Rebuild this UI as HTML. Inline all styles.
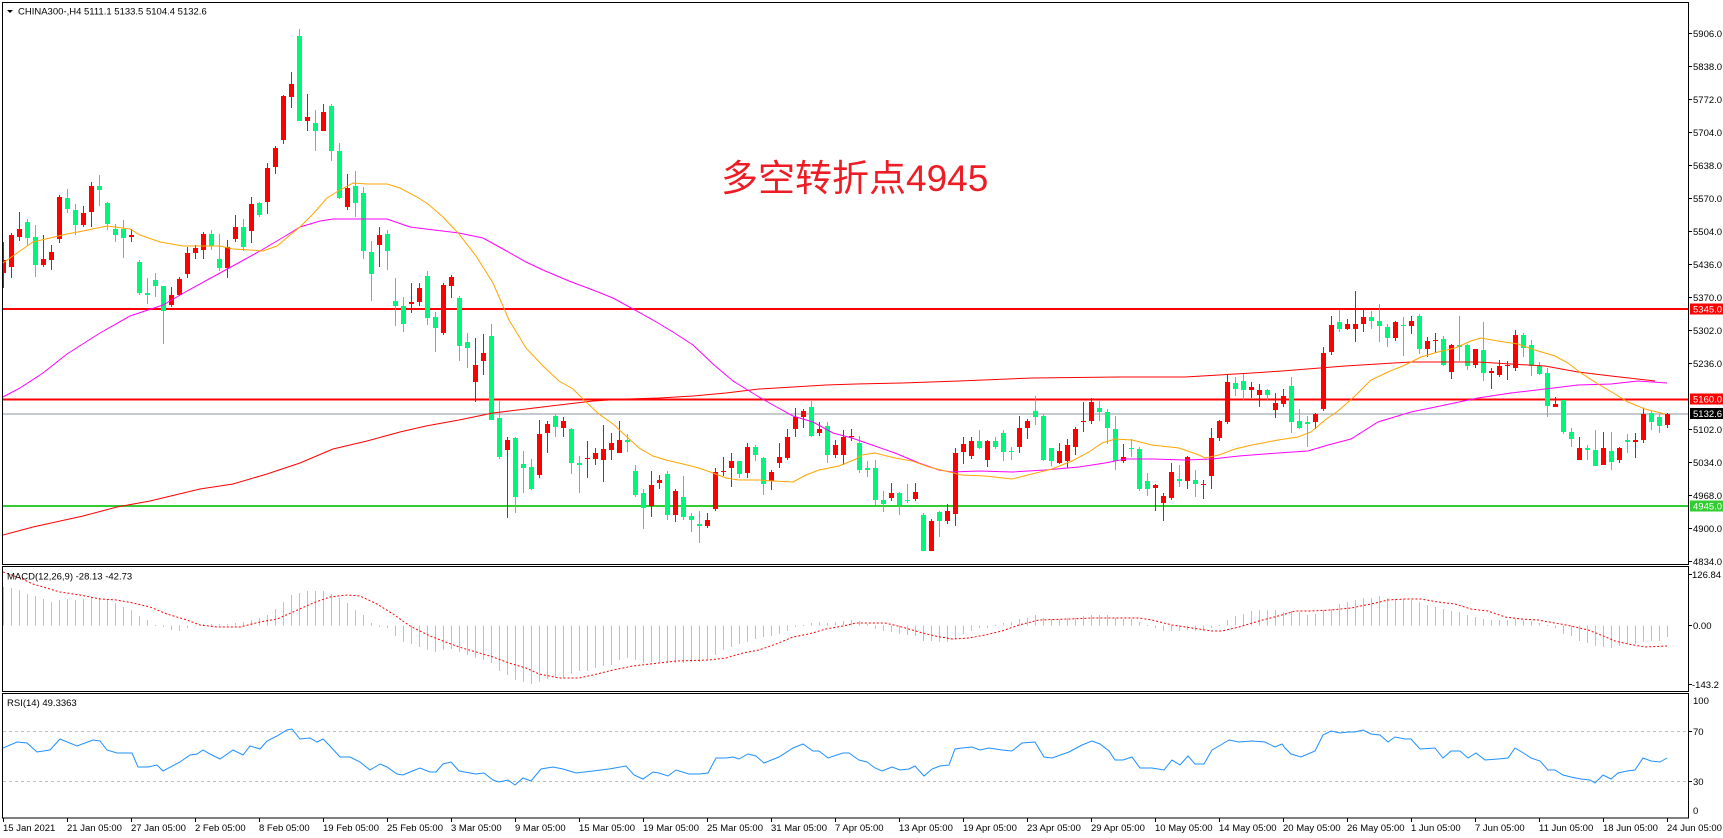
<!DOCTYPE html>
<html><head><meta charset="utf-8">
<style>
html,body{margin:0;padding:0;background:#fff;}
body{width:1723px;height:838px;overflow:hidden;}
svg{display:block;}
text{font-family:"Liberation Sans",Arial,sans-serif;font-size:9.5px;fill:#000;}
</style></head><body>
<svg width="1723" height="838" viewBox="0 0 1723 838">
<defs>
<clipPath id="cm"><rect x="3" y="3" width="1685" height="561"/></clipPath>
<clipPath id="cd"><rect x="3" y="567" width="1685" height="124"/></clipPath>
<clipPath id="cr"><rect x="3" y="694" width="1685" height="123"/></clipPath>
</defs>
<rect width="1723" height="838" fill="#fff"/>

<!-- MAIN PANEL -->
<g clip-path="url(#cm)">
<rect x="3" y="308" width="1685" height="2" fill="#ff0000"/>
<rect x="3" y="398.5" width="1685" height="2" fill="#ff0000"/>
<rect x="3" y="505" width="1685" height="2" fill="#32cd32"/>
<rect x="3" y="413.5" width="1685" height="1" fill="#8a95a0"/>
<g id="cdl"></g>
<polyline fill="none" stroke="#ff0000" stroke-width="1" points="3,535 33,527 83,516 117,507 150,501 200,489 233,484 267,474 300,463 333,449 367,441 400,432 426,426 459,420 493,413 526,409 559,405 593,401 626,399 659,398 693,396 726,393 759,389 793,387 826,385 856,384 902,383 959,381 1032,378 1119,377 1185,377 1219,375 1252,373 1282,371 1345,366 1411,362 1478,362 1511,364 1545,366 1578,372 1611,376 1655,381"/>
<polyline fill="none" stroke="#ff00ff" stroke-width="1" points="3,397 20,388 43,373 67,354 100,333 130,316 163,305 187,291 220,273 260,251 287,235 300,227 320,221 333,219 387,219 410,227 426,229 459,233 483,238 503,249 526,262 543,270 569,281 593,290 613,298 633,309 653,320 673,332 693,345 713,364 733,381 746,389 759,397 773,405 793,416 813,422 833,433 852,438 872,445 895,453 919,463 939,470 952,472 979,471 1012,472 1045,470 1079,467 1105,463 1125,459 1152,459 1185,460 1212,459 1239,456 1278,453 1308,451 1328,445 1351,439 1378,422 1411,412 1445,405 1478,398 1511,393 1545,389 1578,385 1611,384 1638,381 1667,383"/>
<polyline fill="none" stroke="#ffa500" stroke-width="1" points="3,263 20,251 33,242 50,238 67,234 83,231 107,226 130,229 140,235 160,242 183,246 220,246 233,249 250,250 263,251 277,246 290,235 300,227 313,214 327,198 340,190 353,183 367,184 387,184 400,188 417,197 428,204 443,217 459,234 476,256 493,283 509,320 526,348 543,366 559,381 573,389 586,402 599,414 613,424 626,436 639,448 653,456 666,460 683,464 699,468 713,473 726,478 739,480 759,480 773,481 793,482 806,475 819,470 839,466 856,459 862,455 875,453 895,458 912,461 929,467 945,471 962,475 985,476 1012,479 1032,474 1052,469 1072,461 1089,452 1102,443 1115,439 1132,440 1152,445 1179,448 1199,455 1205,458 1219,455 1235,449 1252,445 1278,440 1298,437 1311,432 1325,420 1338,411 1355,396 1371,380 1388,372 1405,365 1421,357 1438,352 1455,348 1471,341 1481,338 1498,341 1518,344 1535,350 1555,356 1568,363 1581,373 1598,384 1615,394 1628,402 1645,409 1665,414"/>
<text x="721" y="191" style="font-family:'Liberation Sans','Noto Sans CJK SC',sans-serif;font-size:37px;fill:#ee1c25;">多空转折点4945</text>
<polygon points="7,10 13,10 10,13" fill="#000"/>
<text x="18" y="14.5">CHINA300-,H4  5111.1 5133.5 5104.4 5132.6</text>
</g>

<!-- MACD PANEL -->
<g clip-path="url(#cd)">
<g id="hist"></g>
<polyline fill="none" stroke="#ff0000" stroke-width="1" stroke-dasharray="2,2" points="3,572 20,578 33,584 43,587 60,592 80,595 100,599 117,600 133,603 150,607 167,614 187,620 200,625 217,627 240,627 260,622 277,619 293,612 313,603 330,597 347,595 360,596 377,604 393,614 410,626 430,636 443,641 459,647 476,652 493,657 509,663 526,668 539,674 559,678 579,678 593,675 613,670 633,666 659,663 676,661 709,660 726,658 743,653 759,650 776,644 793,637 809,634 826,629 843,626 856,623 885,623 902,627 919,632 935,636 952,639 969,638 985,635 1002,631 1019,625 1039,620 1069,619 1092,618 1119,618 1139,618 1152,620 1172,625 1192,628 1212,631 1222,631 1239,627 1259,621 1282,615 1295,611 1311,611 1331,610 1351,608 1371,604 1388,600 1405,599 1421,599 1438,602 1455,604 1471,609 1488,611 1505,617 1521,619 1538,620 1555,623 1571,626 1588,630 1601,635 1615,641 1628,644 1645,647 1667,646"/>
<text x="7" y="579.5">MACD(12,26,9) -28.13 -42.73</text>
</g>

<!-- RSI PANEL -->
<g clip-path="url(#cr)">
<line x1="3" y1="731.5" x2="1688" y2="731.5" stroke="#c0c0c0" stroke-width="1" stroke-dasharray="3,3"/>
<line x1="3" y1="781.5" x2="1688" y2="781.5" stroke="#c0c0c0" stroke-width="1" stroke-dasharray="3,3"/>
<polyline fill="none" stroke="#1e90ff" stroke-width="1" points="3,748 17,742 27,743 37,752 50,750 60,739 77,746 93,740 100,741 107,750 117,753 132,753 138,767 148,767 157,765 163,771 180,762 190,755 197,754 203,750 210,754 220,759 233,750 243,755 250,746 260,749 267,741 277,736 287,730 292,729 300,739 310,738 317,742 323,739 330,746 340,757 350,757 360,762 370,770 380,764 387,767 397,774 403,775 410,772 420,768 430,772 436,772 443,764 451,762 459,771 476,774 484,773 493,780 499,782 508,780 515,785 523,778 531,781 541,769 553,767 563,769 576,773 593,771 609,769 626,766 634,775 643,779 653,772 659,773 668,776 676,770 689,774 699,774 708,773 716,758 726,758 733,757 739,759 748,754 756,756 764,763 779,757 793,748 803,744 813,751 819,751 828,758 843,753 849,753 856,758 859,760 867,762 875,768 882,771 892,767 900,770 909,769 915,766 924,776 932,769 940,766 949,765 955,749 962,748 972,747 980,750 989,748 1002,750 1012,751 1022,743 1035,742 1044,757 1052,758 1069,752 1082,745 1092,741 1100,744 1109,751 1115,760 1123,760 1132,757 1140,768 1152,768 1164,770 1172,760 1180,765 1188,756 1195,764 1204,764 1212,750 1219,746 1229,740 1239,742 1252,741 1265,742 1275,747 1282,744 1285,748 1291,754 1301,757 1315,751 1323,735 1331,731 1340,733 1348,732 1355,732 1363,730 1371,734 1380,735 1388,742 1395,737 1405,739 1411,739 1420,749 1435,748 1443,758 1451,751 1460,751 1468,758 1476,753 1485,760 1498,759 1508,758 1515,748 1525,754 1531,758 1540,761 1548,770 1555,770 1563,775 1571,777 1581,779 1590,780 1595,783 1603,775 1611,779 1618,773 1627,771 1635,770 1643,758 1651,761 1660,762 1667,758"/>
<text x="7" y="706">RSI(14) 49.3363</text>
</g>

<!-- PANEL BORDERS -->
<g fill="none" stroke="#000" stroke-width="1">
<rect x="2.5" y="2.5" width="1686" height="562"/>
<rect x="2.5" y="566.5" width="1686" height="125"/>
<rect x="2.5" y="693.5" width="1686" height="124.5"/>
</g>

<!-- RIGHT AXIS TICKS -->
<g stroke="#000" stroke-width="1">
<line x1="1688" y1="33.5" x2="1692" y2="33.5"/><line x1="1688" y1="66.5" x2="1692" y2="66.5"/><line x1="1688" y1="99.5" x2="1692" y2="99.5"/><line x1="1688" y1="132.5" x2="1692" y2="132.5"/><line x1="1688" y1="165.5" x2="1692" y2="165.5"/><line x1="1688" y1="198.5" x2="1692" y2="198.5"/><line x1="1688" y1="231.5" x2="1692" y2="231.5"/><line x1="1688" y1="264.5" x2="1692" y2="264.5"/><line x1="1688" y1="297.5" x2="1692" y2="297.5"/><line x1="1688" y1="330.5" x2="1692" y2="330.5"/><line x1="1688" y1="363.5" x2="1692" y2="363.5"/><line x1="1688" y1="429.5" x2="1692" y2="429.5"/><line x1="1688" y1="462.5" x2="1692" y2="462.5"/><line x1="1688" y1="495.5" x2="1692" y2="495.5"/><line x1="1688" y1="528.5" x2="1692" y2="528.5"/><line x1="1688" y1="561.5" x2="1692" y2="561.5"/>
<line x1="1688" y1="625.5" x2="1692" y2="625.5"/><line x1="1688" y1="574.5" x2="1692" y2="574.5"/><line x1="1688" y1="684.5" x2="1692" y2="684.5"/>
<line x1="1688" y1="731.5" x2="1692" y2="731.5"/><line x1="1688" y1="781.5" x2="1692" y2="781.5"/>
</g>

<!-- RIGHT AXIS LABELS -->
<g>
<text x="1693" y="37">5906.0</text>
<text x="1693" y="70">5838.0</text>
<text x="1693" y="103">5772.0</text>
<text x="1693" y="136">5704.0</text>
<text x="1693" y="169">5638.0</text>
<text x="1693" y="202">5570.0</text>
<text x="1693" y="235">5504.0</text>
<text x="1693" y="268">5436.0</text>
<text x="1693" y="301">5370.0</text>
<text x="1693" y="334">5302.0</text>
<text x="1693" y="367">5236.0</text>
<text x="1693" y="433">5102.0</text>
<text x="1693" y="466">5034.0</text>
<text x="1693" y="499">4968.0</text>
<text x="1693" y="532">4900.0</text>
<text x="1693" y="565">4834.0</text>
<rect x="1690" y="303.5" width="33" height="11" fill="#ff0000"/>
<text x="1693" y="312.5" style="fill:#fff">5345.0</text>
<rect x="1690" y="393.5" width="33" height="11" fill="#ff0000"/>
<text x="1693" y="402.5" style="fill:#fff">5160.0</text>
<rect x="1690" y="408" width="33" height="11" fill="#000"/>
<text x="1693" y="417" style="fill:#fff">5132.6</text>
<rect x="1690" y="500.5" width="33" height="11" fill="#32cd32"/>
<text x="1693" y="509.5" style="fill:#fff">4945.0</text>
<text x="1692" y="578">126.84</text>
<text x="1693" y="629">0.00</text>
<text x="1692" y="688">-143.2</text>
<text x="1693" y="704">100</text>
<text x="1693" y="735">70</text>
<text x="1693" y="785">30</text>
<text x="1693" y="814">0</text>
</g>

<!-- DATE AXIS -->
<g stroke="#000" stroke-width="1">
<line x1="3.5" y1="818" x2="3.5" y2="822"/><line x1="67.5" y1="818" x2="67.5" y2="822"/><line x1="131.5" y1="818" x2="131.5" y2="822"/><line x1="195.5" y1="818" x2="195.5" y2="822"/><line x1="259.5" y1="818" x2="259.5" y2="822"/><line x1="323.5" y1="818" x2="323.5" y2="822"/><line x1="387.5" y1="818" x2="387.5" y2="822"/><line x1="451.5" y1="818" x2="451.5" y2="822"/><line x1="515.5" y1="818" x2="515.5" y2="822"/><line x1="579.5" y1="818" x2="579.5" y2="822"/><line x1="643.5" y1="818" x2="643.5" y2="822"/><line x1="707.5" y1="818" x2="707.5" y2="822"/><line x1="771.5" y1="818" x2="771.5" y2="822"/><line x1="835.5" y1="818" x2="835.5" y2="822"/><line x1="899.5" y1="818" x2="899.5" y2="822"/><line x1="963.5" y1="818" x2="963.5" y2="822"/><line x1="1027.5" y1="818" x2="1027.5" y2="822"/><line x1="1091.5" y1="818" x2="1091.5" y2="822"/><line x1="1155.5" y1="818" x2="1155.5" y2="822"/><line x1="1219.5" y1="818" x2="1219.5" y2="822"/><line x1="1283.5" y1="818" x2="1283.5" y2="822"/><line x1="1347.5" y1="818" x2="1347.5" y2="822"/><line x1="1411.5" y1="818" x2="1411.5" y2="822"/><line x1="1475.5" y1="818" x2="1475.5" y2="822"/><line x1="1539.5" y1="818" x2="1539.5" y2="822"/><line x1="1603.5" y1="818" x2="1603.5" y2="822"/><line x1="1667.5" y1="818" x2="1667.5" y2="822"/>
</g>
<g>
<text x="3" y="831">15 Jan 2021</text>
<text x="67" y="831">21 Jan 05:00</text>
<text x="131" y="831">27 Jan 05:00</text>
<text x="195" y="831">2 Feb 05:00</text>
<text x="259" y="831">8 Feb 05:00</text>
<text x="323" y="831">19 Feb 05:00</text>
<text x="387" y="831">25 Feb 05:00</text>
<text x="451" y="831">3 Mar 05:00</text>
<text x="515" y="831">9 Mar 05:00</text>
<text x="579" y="831">15 Mar 05:00</text>
<text x="643" y="831">19 Mar 05:00</text>
<text x="707" y="831">25 Mar 05:00</text>
<text x="771" y="831">31 Mar 05:00</text>
<text x="835" y="831">7 Apr 05:00</text>
<text x="899" y="831">13 Apr 05:00</text>
<text x="963" y="831">19 Apr 05:00</text>
<text x="1027" y="831">23 Apr 05:00</text>
<text x="1091" y="831">29 Apr 05:00</text>
<text x="1155" y="831">10 May 05:00</text>
<text x="1219" y="831">14 May 05:00</text>
<text x="1283" y="831">20 May 05:00</text>
<text x="1347" y="831">26 May 05:00</text>
<text x="1411" y="831">1 Jun 05:00</text>
<text x="1475" y="831">7 Jun 05:00</text>
<text x="1539" y="831">11 Jun 05:00</text>
<text x="1603" y="831">18 Jun 05:00</text>
<text x="1667" y="831">24 Jun 05:00</text>
</g>
</svg>

<script>
var D=[
[1,260,273,242,288],[1,235,267,233,278],[1,229,237,212,241],[0,222,238,219,245],[0,237,265,225,277],
[1,259,265,235,267],[1,252,260,245,270],[1,197,239,195,243],[0,198,209,189,213],[0,210,225,204,235],
[1,213,225,206,227],[1,186,212,182,227],[0,186,190,175,206],[0,203,224,202,230],[0,229,235,224,242],
[0,229,238,220,258],[1,235,237,229,242],[0,262,293,260,295],[0,293,295,278,304],[0,280,286,273,297],
[0,286,311,286,344],[1,295,305,287,307],[1,279,295,277,296],[1,253,274,247,278],[1,248,253,245,259],
[1,234,250,232,259],[0,234,246,230,250],[0,259,268,234,271],[1,247,268,240,278],[1,227,239,215,242],
[0,227,247,219,251],[1,204,231,197,243],[0,203,215,202,217],[1,168,202,163,214],[1,148,167,146,174],
[1,96,140,95,144],[1,84,97,72,108],[0,36,121,29,121],[1,117,121,94,131],[0,123,131,110,151],
[1,112,131,104,131],[0,106,151,104,161],[0,151,198,143,199],[1,188,207,174,210],[0,186,203,171,217],
[0,193,251,187,259],[0,252,274,241,301],[1,235,245,227,267],[0,234,251,230,270],[0,301,306,278,326],
[0,306,324,297,332],[1,302,304,283,313],[1,288,302,283,306],[0,276,318,271,325],[0,317,328,312,352],
[1,285,333,283,335],[1,277,286,275,298],[0,298,346,296,361],[0,342,348,333,368],[1,365,382,338,402],
[1,353,361,334,375],[0,336,420,324,420],[0,418,457,400,459],[1,440,450,437,518],[0,438,497,437,513],
[0,464,468,451,493],[0,467,489,459,490],[1,434,475,420,478],[1,424,433,421,453],[0,416,427,414,437],
[1,421,428,417,437],[0,429,463,428,474],[0,463,465,456,493],[1,458,459,441,478],[1,453,459,448,465],
[1,449,460,425,482],[1,443,450,433,460],[1,440,453,421,453],[0,440,442,434,452],[0,471,495,465,497],
[0,493,508,489,529],[1,485,506,471,517],[1,480,483,475,489],[0,474,515,471,520],[1,491,515,489,522],
[0,497,517,476,520],[0,516,520,513,532],[0,524,526,511,543],[1,520,526,513,528],[1,472,509,468,511],
[1,471,472,457,476],[1,461,468,453,487],[0,461,474,461,478],[1,447,473,443,478],[0,447,455,445,461],
[0,458,484,457,495],[1,472,481,470,490],[1,457,463,443,468],[1,437,458,429,460],[1,417,429,408,437],
[1,411,417,409,428],[0,407,436,401,437],[1,429,433,422,436],[0,426,455,422,463],[1,445,455,440,458],
[1,437,455,430,465],[1,436,437,429,441],[0,443,470,436,473],[0,468,470,461,477],[0,468,500,460,505],
[0,500,504,491,512],[1,493,498,483,501],[0,493,505,492,515],[0,500,501,484,503],[1,492,499,483,501],
[0,515,551,513,551],[1,521,551,519,551],[0,512,521,511,537],[1,511,521,504,524],[1,453,514,448,526],
[1,444,452,437,464],[1,441,456,437,459],[0,441,448,430,449],[1,441,460,440,467],[0,441,447,437,449],
[0,433,452,430,461],[0,451,452,447,460],[1,428,447,416,453],[1,421,428,419,439],[0,411,417,396,425],
[0,416,460,414,461],[0,448,461,448,466],[1,451,463,443,464],[1,445,461,439,468],[1,429,447,427,455],
[1,421,422,402,432],[1,402,421,398,424],[0,408,412,401,421],[0,412,428,409,444],[0,429,461,416,470],
[1,457,461,444,463],[0,448,449,439,457],[0,449,489,447,491],[0,481,489,473,496],[1,485,488,484,511],
[1,496,503,493,521],[1,472,498,463,500],[0,479,481,465,487],[1,457,481,456,489],[0,480,484,470,497],
[1,484,485,480,499],[1,438,476,428,489],[1,421,438,420,441],[1,382,422,374,424],[0,383,389,377,396],
[0,381,390,374,400],[1,387,390,382,398],[1,390,395,384,407],[0,390,395,389,400],[1,403,410,393,418],
[1,396,404,389,407],[0,386,422,377,433],[0,421,428,409,429],[0,422,424,416,447],[1,414,422,413,429],
[1,353,409,347,411],[1,325,352,316,355],[0,322,329,310,332],[1,324,329,319,330],[1,324,329,291,342],
[1,317,324,310,332],[0,317,321,311,329],[0,321,326,304,342],[0,327,338,324,347],[1,322,338,321,341],
[0,325,326,317,356],[1,321,326,316,334],[0,316,349,314,354],[1,341,349,337,357],[1,340,341,333,353],
[0,339,365,336,366],[1,345,372,344,379],[0,345,347,316,361],[0,345,366,344,370],[1,349,365,349,368],
[0,350,373,322,381],[1,371,373,368,389],[1,366,375,360,377],[1,365,366,361,380],[1,335,368,330,371],
[0,335,348,333,357],[0,345,366,340,376],[0,366,374,362,375],[0,373,406,368,417],[1,404,407,397,407],
[0,400,432,400,434],[0,432,439,428,447],[1,448,460,437,460],[0,448,450,445,460],[0,450,466,430,466],
[1,448,465,432,465],[0,451,462,432,470],[1,448,460,447,463],[0,440,442,434,453],[1,440,442,433,458],
[1,414,440,408,443],[0,413,422,411,430],[0,417,426,414,433],[1,414,425,413,428]
];
var H=[587,588,590,594,596,599,602,600,599,600,599,598,598,599,603,607,610,616,620,625,627,630,631,628,626,624,624,624,624,623,622,620,618,615,609,602,595,593,591,591,591,594,598,603,610,615,623,627,628,636,642,644,647,650,
652,650,649,652,655,658,660,663,671,675,680,682,684,682,679,678,678,674,671,671,668,666,665,660,658,660,663,662,662,663,663,663,662,662,660,655,650,647,644,642,639,637,636,634,631,627,625,623,622,623,622,621,620,
621,624,629,631,632,634,635,636,641,641,642,642,639,634,631,628,628,625,623,622,619,618,615,618,619,619,618,618,616,615,615,615,618,619,619,622,625,628,631,631,631,630,631,631,628,625,620,616,614,611,610,610,610,
612,611,612,615,614,610,609,604,602,600,598,598,596,598,599,599,600,602,605,607,609,611,612,615,617,619,620,620,620,619,620,621,623,625,628,634,636,641,643,646,647,648,646,644,644,642,641,641,637];
(function(){
  var s='';
  for(var i=0;i<D.length;i++){
    var d=D[i],c=d[0]?'#ff0000':'#00f57a',x=3+8*i;
    s+='<rect x="'+x+'" y="'+d[3]+'" width="1" height="'+Math.max(1,d[4]-d[3])+'" fill="'+c+'"/>';
    s+='<rect x="'+(x-2)+'" y="'+d[1]+'" width="5" height="'+Math.max(1,d[2]-d[1])+'" fill="'+c+'"/>';
  }
  document.getElementById('cdl').innerHTML=s;
  var h='',z=625.5;
  for(var j=0;j<H.length;j++){
    var v=H[j],x2=3+8*j,t=Math.min(v,z),b=Math.max(v,z);
    h+='<rect x="'+x2+'" y="'+t+'" width="1" height="'+Math.max(1,b-t)+'" fill="#c0c0c0"/>';
  }
  document.getElementById('hist').innerHTML=h;
})();
</script>
</body></html>
